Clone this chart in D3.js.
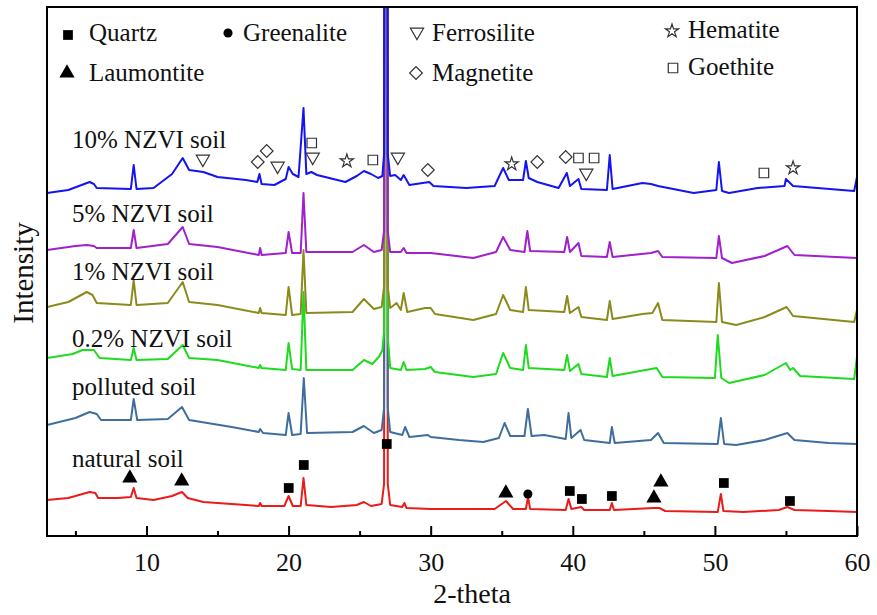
<!DOCTYPE html>
<html>
<head>
<meta charset="utf-8">
<script src="https://cdn.jsdelivr.net/npm/d3@7/dist/d3.min.js"></script>
<style>
  html, body { margin: 0; padding: 0; background: #fff; }
  svg text { font-family: "Liberation Serif", "Times New Roman", serif; fill: #111; }
</style>
</head>
<body>
<div id="page"></div>
<script>
(function() {

  "use strict";

  // series names, bottom to top (also the drawing order)
  var seriesNames = [ "natural soil", "polluted soil", "0.2% NZVI soil", "1% NZVI soil", "5% NZVI soil", "10% NZVI soil" ];

  var xTicks = [ 10, 20, 30, 40, 50, 60 ],
    xMinorTicks = [ 5, 15, 25, 35, 45, 55 ];

  // [2-theta, intensity (a.u., stacked)]
  var naturalSoil = [
    [3.0,36],[4.5,38],[5.5,42],[6.0,44],[6.4,43],[6.6,38],[8.0,38],[8.9,39],[9.1,48],[9.3,38],
    [10.5,36],[11.8,40],[12.5,44],[12.9,38],[14,34],[16,32],[17.9,30],[18.0,33],[18.1,30],[19.7,30],
    [20.0,40],[20.3,30],[20.85,30],[21.05,58],[21.25,31],[23,29],[24.8,31],[25.3,34],[25.8,30],[26.55,32],
    [26.72,52],[26.8,1500],[26.9,1500],[26.98,52],[27.15,31],[28.0,29],[28.15,33],[28.3,28],[30,27],[32,27],
    [34.5,27],[35.3,35],[35.8,27],[36.7,27],[36.85,39],[37.0,27],[39.5,26],[39.7,37],[39.9,27],[40.6,29],
    [40.8,26],[42.6,26],[42.75,33],[42.9,26],[45.7,28],[46.1,28],[46.5,25],[50.2,24],[50.42,42],[50.6,25],
    [52,24],[54.5,26],[55.1,29],[55.6,26],[58,25],[60,24]
  ];

  var pollutedSoil = [
    [3.0,111],[5.0,118],[6.0,124],[6.5,122],[6.8,116],[8.9,116],[9.1,137],[9.35,116],[11.5,117],[12.5,129],
    [13.0,116],[16,109],[17.9,104],[18.0,107],[18.2,103],[19.8,101],[20.0,123],[20.25,101],[20.85,102],[21.07,158],
    [21.3,103],[24.5,104],[25.3,110],[26.0,103],[26.55,106],[26.72,128],[26.8,1500],[26.9,1500],[26.98,128],[27.15,104],
    [28.0,101],[28.2,109],[28.5,99],[29.8,101],[30.0,99],[32,96],[33.7,94],[34.8,98],[35.2,113],[35.6,100],
    [36.6,100],[36.84,127],[37.1,100],[38.0,101],[39.5,97],[39.7,123],[39.9,98],[40.55,106],[40.8,96],[42.6,93],
    [42.75,109],[42.95,93],[45.5,96],[46.0,103],[46.4,93],[50.2,92],[50.42,118],[50.65,92],[51.5,91],[53.5,96],
    [55.1,103],[55.6,96],[58,93],[60,92]
  ];

  var nzvi02Soil = [
    [3.0,178],[4.8,182],[5.5,186],[6.3,186],[6.7,178],[8.9,176],[9.1,188],[9.3,176],[11.5,177],[12.55,191],
    [13.0,178],[15,176],[17.9,168],[18.0,171],[18.1,168],[19.8,166],[20.0,193],[20.25,167],[20.85,166],[21.05,244],
    [21.25,166],[24.5,166],[25.3,176],[25.9,172],[26.4,180],[26.6,186],[26.72,205],[26.8,1500],[26.9,1500],[26.98,200],
    [27.15,168],[27.9,166],[28.1,174],[28.3,166],[29.6,167],[30.0,169],[30.3,164],[33,159],[34.6,162],[35.1,183],
    [35.6,168],[36.5,166],[36.7,191],[36.9,168],[39.4,166],[39.6,181],[39.8,165],[40.4,172],[40.6,162],[42.4,159],
    [42.6,178],[42.8,160],[45.9,168],[46.3,159],[50.0,158],[50.2,201],[50.45,158],[51,153],[53.5,161],[55.0,173],
    [55.3,166],[55.5,168],[56,160],[59.8,157],[60,179]
  ];

  var nzvi1Soil = [
    [3.0,229],[4.5,234],[5.8,244],[6.2,241],[6.5,233],[8.9,231],[9.1,256],[9.3,231],[11.5,233],[12.55,254],
    [13.0,234],[15,231],[17.9,223],[18.0,228],[18.1,223],[19.8,221],[20.0,249],[20.25,221],[20.85,222],[21.05,286],
    [21.25,223],[24.5,224],[25.3,237],[26.0,227],[26.55,229],[26.72,250],[26.8,1500],[26.9,1500],[26.98,250],[27.15,228],
    [27.6,233],[27.9,226],[28.1,243],[28.35,224],[29.6,228],[30.0,228],[30.3,222],[33,216],[34.6,222],[35.1,241],
    [35.6,226],[36.5,224],[36.7,249],[36.9,226],[39.4,224],[39.6,240],[39.8,223],[40.4,229],[40.6,219],[42.4,216],
    [42.6,235],[42.8,217],[44.9,222],[45.6,223],[46.0,233],[46.3,216],[50.1,214],[50.28,253],[50.5,214],[51.5,211],
    [53.5,219],[55.05,229],[55.5,220],[59.8,214],[60,226]
  ];

  var nzvi5Soil = [
    [3.0,286],[5.0,290],[5.8,291],[6.3,290],[6.5,288],[8.9,288],[9.1,306],[9.3,288],[11.5,292],[12.55,309],
    [13.0,292],[15,289],[17.9,281],[18.0,288],[18.1,281],[19.8,283],[20.0,304],[20.25,283],[20.85,283],[21.05,343],
    [21.25,284],[24.5,284],[25.3,291],[26.0,284],[26.55,286],[26.72,305],[26.8,1500],[26.9,1500],[26.98,305],[27.15,284],
    [27.9,284],[28.1,288],[28.3,283],[30,283],[33,278],[34.6,284],[35.1,299],[35.6,286],[36.6,284],[36.8,305],
    [37.0,285],[39.4,284],[39.6,299],[39.8,284],[40.4,293],[40.6,280],[42.4,279],[42.6,294],[42.8,279],[45.5,283],
    [46.0,285],[46.3,279],[50.1,278],[50.28,300],[50.5,278],[51.2,273],[53.5,280],[55.1,290],[55.6,281],[60,278]
  ];

  var nzvi10Soil = [
    [3.0,343],[4.5,346],[6.0,354],[6.3,352],[6.5,348],[8.9,347],[9.1,371],[9.3,347],[10.5,348],[11.8,362],
    [12.55,378],[13.0,366],[14,364],[15,359],[17,356],[17.8,354],[17.95,362],[18.1,352],[19.0,351],[19.8,357],
    [20.0,369],[20.3,362],[20.7,359],[21.05,428],[21.25,362],[21.6,364],[22,361],[24,354],[24.8,360],[25.3,365],
    [25.8,362],[26.3,358],[26.6,360],[26.72,382],[26.8,1500],[26.9,1500],[26.98,382],[27.15,360],[27.5,361],[27.9,356],
    [28.1,361],[28.5,351],[29.9,354],[30.2,350],[32.5,348],[34.5,350],[35.1,368],[35.5,356],[36.5,356],[36.7,375],
    [36.9,358],[37.5,354],[39.0,348],[39.58,363],[39.8,350],[40.4,357],[40.6,347],[42.4,346],[42.6,381],[42.8,347],
    [44.9,353],[45.5,352],[46.0,350],[48.5,343],[50.1,346],[50.28,374],[50.5,345],[51.0,343],[53.0,348],[54.9,350],
    [55.0,357],[55.5,350],[59.8,345],[60,359]
  ];

  var seriesData = [ naturalSoil, pollutedSoil, nzvi02Soil, nzvi1Soil, nzvi5Soil, nzvi10Soil ];

  // phase markers: [2-theta, level]
  var quartzMarks = [ [20.01,48],[21.07,71],[26.91,92],[39.79,45],[40.64,37],[42.75,40],[50.63,53],[55.28,35] ],
    greenaliteMarks = [ [36.84,42] ],
    laumontiteMarks = [ [8.83,58],[12.48,55],[35.29,43],[45.71,38],[46.2,54] ],
    ferrosiliteMarks = [ [13.97,377],[19.23,370],[21.7,379],[27.69,379],[40.95,363] ],
    magnetiteMarks = [ [17.83,374],[18.46,385],[29.8,366],[37.5,374],[39.5,379] ],
    hematiteMarks = [ [24.1,375],[35.7,372],[55.5,368] ],
    goethiteMarks = [ [21.63,393],[25.93,376],[40.4,378],[41.5,378],[53.45,363] ];

  /* * * * * * * * * * * * * * * * * * * */

  var W = 877, H = 615,
    margin = { top: 7, right: 20, bottom: 79, left: 47 },
    iw = W - margin.left - margin.right,
    ih = H - margin.top - margin.bottom;

  var colors = [ "#ea1b1b", "#3f6e9e", "#1fdb1f", "#8b8b1c", "#a020cc", "#1414f0" ];
  var labelLevels = [ 69, 141, 189, 256, 314, 388 ];

  var x = d3.scaleLinear().domain( [ 3, 60 ] ).range( [ 0, iw ] ),
    y = d3.scaleLinear().domain( [ 0, 529 ] ).range( [ ih, 0 ] );

  var svg = d3.select( "#page" ).append( "svg" )
    .attr( "width", W )
    .attr( "height", H );

  svg.append( "defs" ).append( "clipPath" )
    .attr( "id", "plotclip" )
    .append( "rect" )
    .attr( "width", iw )
    .attr( "height", ih );

  var g = svg.append( "g" )
    .attr( "transform", "translate(" + margin.left + "," + margin.top + ")" );

  /* * * * * * * * * * * * * * * * * * * */

  var line = d3.line()
    .x( function( d ) { return x( d[0] ); } )
    .y( function( d ) { return y( d[1] ); } );

  g.append( "g" )
    .attr( "clip-path", "url(#plotclip)" )
    .selectAll( "path" )
    .data( seriesData )
    .join( "path" )
    .attr( "d", line )
    .attr( "fill", "none" )
    .attr( "stroke", function( d, i ) { return colors[i]; } )
    .attr( "stroke-width", 2 )
    .attr( "stroke-linejoin", "round" );

  g.selectAll( ".series-label" )
    .data( seriesNames )
    .join( "text" )
    .attr( "class", "series-label" )
    .attr( "x", 25 )
    .attr( "y", function( d, i ) { return y( labelLevels[i] ); } )
    .style( "font-size", "25px" )
    .text( function( d ) { return d; } );

  /* * * * * * * * * * * * * * * * * * * */

  var triDown = d3.symbol().type( d3.symbolTriangle ).size( 75 )(),
    diamond = d3.symbol().type( d3.symbolSquare ).size( 80 )(),
    star = d3.symbol().type( d3.symbolStar ).size( 55 )(),
    square = d3.symbol().type( d3.symbolSquare ).size( 95 )(),
    openSquare = d3.symbol().type( d3.symbolSquare ).size( 90 )(),
    circle = d3.symbol().type( d3.symbolCircle ).size( 65 )(),
    triUp = d3.symbol().type( d3.symbolTriangle ).size( 100 )();

  var markSets = [
    { data: quartzMarks, path: square, rot: 0, filled: true },
    { data: greenaliteMarks, path: circle, rot: 0, filled: true },
    { data: laumontiteMarks, path: triUp, rot: 0, filled: true },
    { data: ferrosiliteMarks, path: triDown, rot: 180, filled: false },
    { data: magnetiteMarks, path: diamond, rot: 45, filled: false },
    { data: hematiteMarks, path: star, rot: 0, filled: false },
    { data: goethiteMarks, path: openSquare, rot: 0, filled: false }
  ];

  function styleMark( sel, set ) {
    sel.attr( "d", set.path )
      .attr( "fill", set.filled ? "#000" : "#fff" )
      .attr( "stroke", set.filled ? "none" : "#333" )
      .attr( "stroke-width", 1.2 );
  }

  markSets.forEach( function( set ) {
    g.append( "g" )
      .selectAll( "path" )
      .data( set.data )
      .join( "path" )
      .attr( "transform", function( d ) {
        return "translate(" + x( d[0] ) + "," + y( d[1] ) + ") rotate(" + set.rot + ")";
      })
      .call( styleMark, set );
  });

  /* * * * * * * * * * * * * * * * * * * */

  // legend, in pixel layout
  var legend = [
    { name: "Quartz", set: 0, mx: 68, my: 35, tx: 89, ty: 41 },
    { name: "Greenalite", set: 1, mx: 228, my: 33, tx: 243, ty: 41 },
    { name: "Ferrosilite", set: 3, mx: 417, my: 32, tx: 432, ty: 41 },
    { name: "Laumontite", set: 2, mx: 67, my: 73, tx: 89, ty: 81 },
    { name: "Magnetite", set: 4, mx: 416, my: 73, tx: 432, ty: 81 },
    { name: "Hematite", set: 5, mx: 672, my: 31, tx: 688, ty: 38 },
    { name: "Goethite", set: 6, mx: 673, my: 68, tx: 688, ty: 75 }
  ];

  var lg = svg.append( "g" );

  legend.forEach( function( l ) {
    var set = markSets[ l.set ];
    lg.append( "path" )
      .attr( "transform", "translate(" + l.mx + "," + l.my + ") rotate(" + set.rot + ")" )
      .call( styleMark, set );
    lg.append( "text" )
      .attr( "x", l.tx )
      .attr( "y", l.ty )
      .style( "font-size", "25px" )
      .text( l.name );
  });

  /* * * * * * * * * * * * * * * * * * * */

  var xAxis = g.append( "g" )
    .attr( "transform", "translate(0," + ih + ")" )
    .call( d3.axisBottom( x ).tickValues( xTicks ).tickSizeInner( -10 ).tickSizeOuter( 0 ).tickPadding( 17 ) );

  xAxis.select( ".domain" ).remove();
  xAxis.selectAll( "line" ).attr( "stroke", "#000" ).attr( "stroke-width", 2 );
  xAxis.selectAll( "text" )
    .style( "font-size", "26px" )
    .style( "font-family", "'Liberation Serif', serif" )
    .attr( "fill", "#111" );

  var xMinor = g.append( "g" )
    .attr( "transform", "translate(0," + ih + ")" )
    .call( d3.axisBottom( x ).tickValues( xMinorTicks ).tickSizeInner( -5 ).tickSizeOuter( 0 ).tickFormat( "" ) );

  xMinor.select( ".domain" ).remove();
  xMinor.selectAll( "line" ).attr( "stroke", "#000" ).attr( "stroke-width", 2 );

  g.append( "rect" )
    .attr( "width", iw )
    .attr( "height", ih )
    .attr( "fill", "none" )
    .attr( "stroke", "#000" )
    .attr( "stroke-width", 2 );

  svg.append( "text" )
    .attr( "x", 472 )
    .attr( "y", 603 )
    .attr( "text-anchor", "middle" )
    .style( "font-size", "28px" )
    .text( "2-theta" );

  svg.append( "text" )
    .attr( "transform", "translate(33,273) rotate(-90)" )
    .attr( "text-anchor", "middle" )
    .style( "font-size", "29px" )
    .text( "Intensity" );

})();
</script>
</body>
</html>
